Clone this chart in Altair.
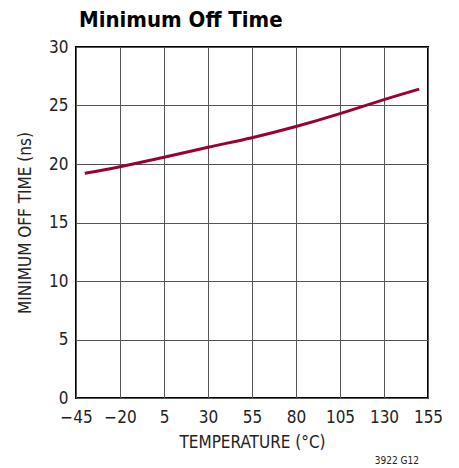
import altair as alt
import pandas as pd

temps = [-40, -20, 5, 30, 55, 80, 105, 130, 150]
off_time = [19.2, 19.77, 20.57, 21.43, 22.25, 23.2, 24.3, 25.5, 26.4]
x_ticks = [-45, -20, 5, 30, 55, 80, 105, 130, 155]
y_ticks = [0, 5, 10, 15, 20, 25, 30]

df = pd.DataFrame({"temp": temps, "t": off_time})

FONT = "'DejaVu Sans Condensed', Roboto, sans-serif"

line = alt.Chart(df).mark_line(color="#9b0032", strokeWidth=3, interpolate="natural").encode(
    x=alt.X("temp:Q", scale=alt.Scale(domain=[-45, 155], nice=False, zero=False),
            axis=alt.Axis(values=x_ticks, title="TEMPERATURE (°C)", labelFlush=False,
                          labelExpr="replace(datum.label, '-', '–')")),
    y=alt.Y("t:Q", scale=alt.Scale(domain=[0, 30], nice=False),
            axis=alt.Axis(values=y_ticks, title="MINIMUM OFF TIME (ns)", labelFlush=False)),
)

title = alt.Chart(pd.DataFrame({"n": ["Minimum Off Time"]})).mark_text(
    font=FONT, fontSize=22, fontWeight="bold", align="left", baseline="alphabetic", color="black"
).encode(text="n:N", x=alt.value(3), y=alt.value(-20))

note = alt.Chart(pd.DataFrame({"n": ["3922 G12"]})).mark_text(
    font=FONT, fontSize=10, align="right", baseline="alphabetic", color="#222"
).encode(text="n:N", x=alt.value(343), y=alt.value(417))

chart = alt.layer(line, title, note).properties(
    width=352, height=351,
    autosize=alt.AutoSizeParams(type="none"),
    padding={"left": 68, "top": 39, "right": 20, "bottom": 72},
).configure_axis(
    grid=True, gridColor="#555", gridWidth=1, gridOpacity=1,
    domain=False, ticks=False, labelOverlap=False,
    labelFont=FONT, labelFontSize=17, labelColor="#222", labelPadding=8,
    titleFont=FONT, titleFontSize=17, titleFontWeight="normal", titleColor="#222",
).configure_axisX(titlePadding=9, labelPadding=11).configure_axisY(titlePadding=14).configure_view(
    stroke="black", strokeWidth=2
)

chart.save("out.html", embed_options={"renderer": "svg", "actions": False})
